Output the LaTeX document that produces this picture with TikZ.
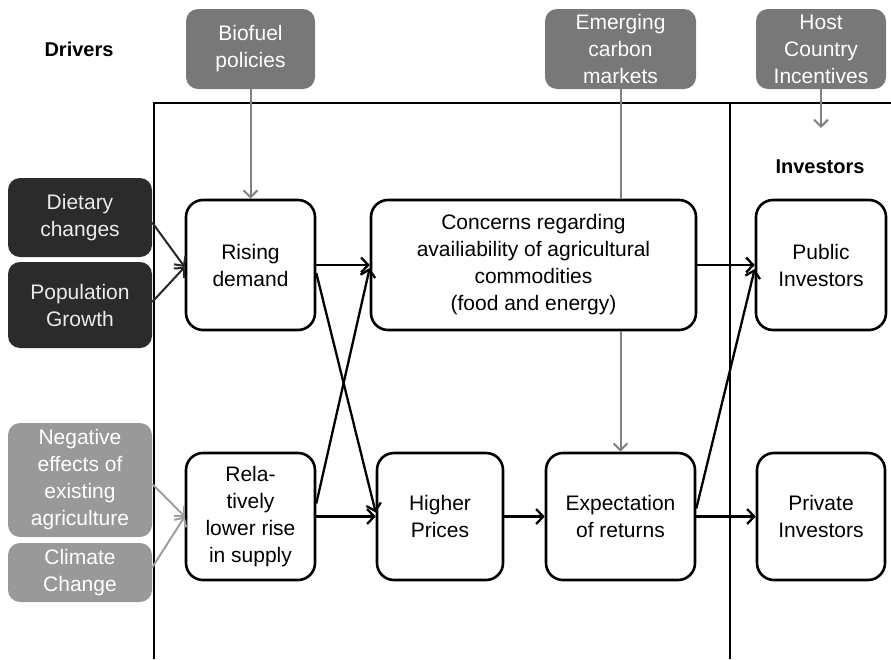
\documentclass[tikz,border=0pt]{standalone}
\usepackage{fontspec}
\setmainfont{Liberation Sans}
\usetikzlibrary{arrows.meta}
\definecolor{topgray}{gray}{0.47}
\definecolor{darkbox}{gray}{0.17}
\definecolor{lightbox}{gray}{0.6}
\definecolor{linegray}{gray}{0.5}
\definecolor{lightline}{gray}{0.62}
\definecolor{darkline}{gray}{0.15}

\begin{document}
\begin{tikzpicture}[x=1pt, y=-1pt,
        every node/.style={font=\fontsize{21}{27}\selectfont, align=center, inner sep=0pt},
        whitebox/.style={draw, line width=2.6pt, rounded corners=17pt, fill=white},
        topbox/.style={fill=topgray, text=white, rounded corners=12pt},
        darkdriver/.style={fill=darkbox, text=white!92!black, rounded corners=12pt},
        lightdriver/.style={fill=lightbox, text=white, rounded corners=12pt},
        heading/.style={font=\fontsize{20}{24}\selectfont\bfseries},
        flow/.style={line width=2.3pt, -{Straight Barb[length=7pt,width=15pt]}},
        grayflow/.style={draw=linegray, line width=2pt, -{Straight Barb[length=7pt,width=14pt]}}]
                \useasboundingbox (0, 0) rectangle (891, 659);
                \draw[line width=2.6pt] (891, 103) -- (154, 103) -- (154, 659);
                \draw[line width=2.6pt] (730, 103) -- (730, 659);

                \node[heading] (drivers) at (79, 49) {Drivers};
                \node[heading] (investors) at (820, 167) {Investors};

                \node[topbox, minimum width=129pt, minimum height=80pt] (biofuel) at (250.5, 49) {Biofuel\\policies};
                \node[topbox, minimum width=151pt, minimum height=80pt] (carbon) at (620.5, 49) {Emerging\\carbon\\markets};
                \node[topbox, minimum width=130pt, minimum height=80pt] (host) at (821, 49) {Host\\Country\\Incentives};

                \node[darkdriver, minimum width=144pt, minimum height=79pt] (dietary) at (80, 217.5) {Dietary\\changes};
                \node[darkdriver, minimum width=144pt, minimum height=86pt] (population) at (80, 305) {Population\\Growth};
                \node[lightdriver, minimum width=144pt, minimum height=114pt] (negative) at (80, 480) {Negative\\effects of\\existing\\agriculture};
                \node[lightdriver, minimum width=144pt, minimum height=59pt] (climate) at (80, 572.5) {Climate\\Change};

                \node[whitebox, minimum width=129pt, minimum height=130pt] (demand) at (250.5, 265) {Rising\\demand};
                \node[whitebox, minimum width=325pt, minimum height=130pt] (concerns) at (533.5, 265) {Concerns regarding\\availiability of agricultural\\commodities\\(food and energy)};
                \node[whitebox, minimum width=130pt, minimum height=130pt] (public) at (821, 265) {Public\\Investors};
                \node[whitebox, minimum width=129pt, minimum height=127pt] (supply) at (250.5, 516.5) {Rela-\\tively\\lower rise\\in supply};
                \node[whitebox, minimum width=126pt, minimum height=127pt] (prices) at (440, 516.5) {Higher\\Prices};
                \node[whitebox, minimum width=149pt, minimum height=127pt] (returns) at (620.5, 516.5) {Expectation\\of returns};
                \node[whitebox, minimum width=128pt, minimum height=127pt] (private) at (821, 516.5) {Private\\Investors};

                \coordinate (hostend) at (821, 128);

                \draw[grayflow] (biofuel) -- (demand);
                \draw[grayflow] (host) -- (hostend);
                \draw[draw=linegray, line width=2pt] (carbon.south) -- (carbon.south |- concerns.north);
                \draw[grayflow] (carbon.south |- concerns.south) -- (returns.north);
                \draw[grayflow, draw=darkline] ([yshift=-5pt]dietary.east) -- ([yshift=-2pt]demand.west);
                \draw[grayflow, draw=darkline] ([yshift=3pt]population.east) -- ([yshift=-2pt]demand.west);
                \draw[grayflow, draw=lightline] ([yshift=-4pt]negative.east) -- (supply.west);
                \draw[grayflow, draw=lightline] ([yshift=5pt]climate.east) -- (supply.west);

                \draw[flow] (demand.east) -- (concerns.west);
                \draw[flow] ([yshift=-8pt]demand.east) -- ([yshift=4pt]prices.west);
                \draw[flow] ([yshift=13pt]supply.east) -- ([yshift=-3pt]concerns.west);
                \draw[flow] (supply.east) -- (prices.west);
                \draw[flow] (prices.east) -- (returns.west);
                \draw[flow] (concerns.east) -- (public.west);
                \draw[flow] ([yshift=8pt]returns.east) -- ([yshift=-4pt]public.west);
                \draw[flow] (returns.east) -- (private.west);
\end{tikzpicture}
\end{document}
